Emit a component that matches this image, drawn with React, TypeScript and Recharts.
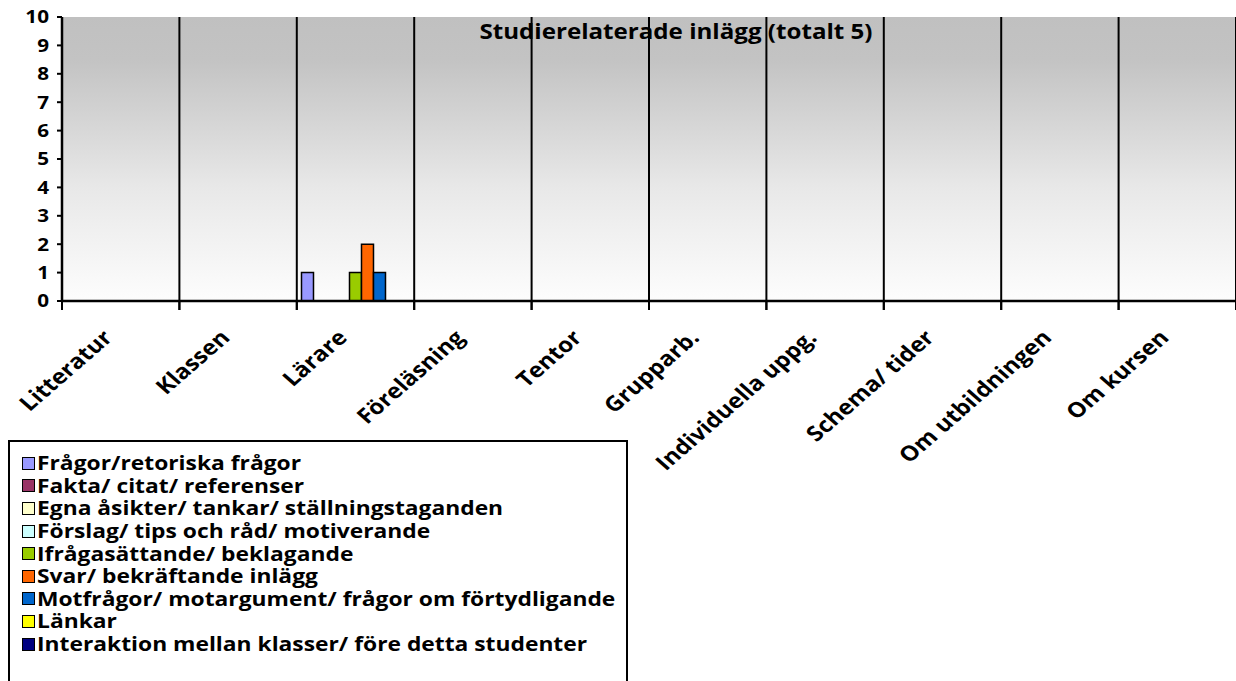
import React from "react";
import {
  BarChart,
  Bar,
  XAxis,
  YAxis,
  CartesianGrid,
  Legend,
} from "recharts";

// categories on the x axis
const categories = [
  "Litteratur",
  "Klassen",
  "Lärare",
  "Föreläsning",
  "Tentor",
  "Grupparb.",
  "Individuella uppg.",
  "Schema/ tider",
  "Om utbildningen",
  "Om kursen",
];

const seriesNames = [
  "Frågor/retoriska frågor",
  "Fakta/ citat/ referenser",
  "Egna åsikter/ tankar/ ställningstaganden",
  "Förslag/ tips och råd/ motiverande",
  "Ifrågasättande/ beklagande",
  "Svar/ bekräftande inlägg",
  "Motfrågor/ motargument/ frågor om förtydligande",
  "Länkar",
  "Interaktion mellan klasser/ före detta studenter",
];

const seriesColors = [
  "#9999FF",
  "#993366",
  "#FFFFCC",
  "#CCFFFF",
  "#99CC00",
  "#FF6600",
  "#0066CC",
  "#FFFF00",
  "#000080",
];

// one array per series, one value per category
const fragor = [0, 0, 1, 0, 0, 0, 0, 0, 0, 0];
const fakta = [0, 0, 0, 0, 0, 0, 0, 0, 0, 0];
const asikter = [0, 0, 0, 0, 0, 0, 0, 0, 0, 0];
const forslag = [0, 0, 0, 0, 0, 0, 0, 0, 0, 0];
const ifragasattande = [0, 0, 1, 0, 0, 0, 0, 0, 0, 0];
const svar = [0, 0, 2, 0, 0, 0, 0, 0, 0, 0];
const motfragor = [0, 0, 1, 0, 0, 0, 0, 0, 0, 0];
const lankar = [0, 0, 0, 0, 0, 0, 0, 0, 0, 0];
const interaktion = [0, 0, 0, 0, 0, 0, 0, 0, 0, 0];

const seriesValues = [
  fragor,
  fakta,
  asikter,
  forslag,
  ifragasattande,
  svar,
  motfragor,
  lankar,
  interaktion,
];

const yTicks = [0, 1, 2, 3, 4, 5, 6, 7, 8, 9, 10];

const data = categories.map((name, i) => {
  const row: Record<string, string | number> = { name };
  seriesNames.forEach((s, j) => {
    row[s] = seriesValues[j][i];
  });
  return row;
});

const FONT = "'Open Sans', Lato, sans-serif";
// the original picture is stretched sideways a little
const SX = 1.15;

// label plus tick marks on both edges of the category band (Excel style)
const XTick = (props: any) => {
  const { x, y, payload, width, visibleTicksCount } = props;
  const half =
    payload && typeof payload.offset === "number" && payload.offset > 0
      ? payload.offset
      : (width || 1174) / (visibleTicksCount || categories.length) / 2;
  const ax = x - 7;
  const ay = y + 38;
  return (
    <g>
      <line x1={x - half} y1={y} x2={x - half} y2={y + 9} stroke="#000" strokeWidth={2} />
      <line x1={x + half} y1={y} x2={x + half} y2={y + 9} stroke="#000" strokeWidth={2} />
      <text
        x={0}
        y={0}
        transform={`translate(${ax}, ${ay}) scale(${SX}, 1) rotate(-45)`}
        textAnchor="end"
        fontFamily={FONT}
        fontWeight={700}
        fontSize={21}
        fill="#000"
      >
        {payload.value}
      </text>
    </g>
  );
};

const ValueTick = (props: any) => {
  const { x, y, payload } = props;
  return (
    <text
      x={0}
      y={0}
      dy="0.36em"
      transform={`translate(${x}, ${y}) scale(${SX}, 1)`}
      textAnchor="end"
      fontFamily={FONT}
      fontWeight={700}
      fontSize={18}
      fill="#000"
    >
      {payload.value}
    </text>
  );
};

const renderLegend = () => (
  <div
    style={{
      width: 620,
      height: 250,
      border: "2px solid #000",
      background: "#fff",
      boxSizing: "border-box",
      paddingTop: 10,
      paddingLeft: 12,
      fontFamily: FONT,
      fontWeight: 700,
      fontSize: 20,
      color: "#000",
    }}
  >
    {seriesNames.map((s, j) => (
      <div
        key={s}
        style={{ display: "flex", alignItems: "center", height: 22.6 }}
      >
        <span
          style={{
            display: "inline-block",
            flex: "none",
            width: 11,
            height: 11,
            border: "1.5px solid #000",
            background: seriesColors[j],
            marginRight: 2,
          }}
        />
        <span
          style={{
            lineHeight: "22px",
            whiteSpace: "nowrap",
            display: "inline-block",
            transform: "scaleX(1.14)",
            transformOrigin: "left center",
          }}
        >
          {s}
        </span>
      </div>
    ))}
  </div>
);

// vertical grid at the category band edges
const gridLines = ({ offset }: any) =>
  categories
    .map((_, i) => offset.left + (offset.width * i) / categories.length)
    .concat(offset.left + offset.width);

export default function App() {
  return (
    <div style={{ position: "absolute", left: 0, top: 0, background: "#fff" }}>
      <BarChart
        width={1236}
        height={681}
        data={data}
        margin={{ top: 17, right: 0, left: 0, bottom: 0 }}
        barGap={0}
        barCategoryGap="4%"
      >
        <defs>
          <linearGradient id="plotBg" x1="0" y1="0" x2="0" y2="1">
            <stop offset="0%" stopColor="#c0c0c0" />
            <stop offset="15%" stopColor="#c3c3c3" />
            <stop offset="60%" stopColor="#e8e8e8" />
            <stop offset="100%" stopColor="#fdfdfd" />
          </linearGradient>
        </defs>
        <CartesianGrid
          horizontal={false}
          vertical
          verticalCoordinatesGenerator={gridLines}
          fill="url(#plotBg)"
          fillOpacity={1}
          stroke="#000"
          strokeWidth={2}
        />
        <XAxis
          dataKey="name"
          interval={0}
          tickSize={0}
          tickMargin={0}
          height={380}
          axisLine={{ stroke: "#000", strokeWidth: 2.5 }}
          tickLine={false}
          tick={<XTick />}
        />
        <YAxis
          width={62}
          domain={[0, 10]}
          ticks={yTicks}
          interval={0}
          tickSize={5}
          tickMargin={8}
          axisLine={{ stroke: "#000", strokeWidth: 2.5 }}
          tickLine={{ stroke: "#000", strokeWidth: 2 }}
          tick={<ValueTick />}
        />
        {seriesNames.map((s, j) => (
          <Bar
            key={s}
            dataKey={s}
            fill={seriesColors[j]}
            stroke="#000"
            strokeWidth={1.5}
            isAnimationActive={false}
          />
        ))}
        <Legend
          layout="vertical"
          align="center"
          verticalAlign="middle"
          content={renderLegend}
          wrapperStyle={{ left: 8, top: 440, width: 620 }}
        />
        <text
          x={0}
          y={0}
          transform={`translate(676, 39) scale(${SX}, 1)`}
          textAnchor="middle"
          fontFamily={FONT}
          fontWeight={700}
          fontSize={21}
          fill="#000"
        >
          Studierelaterade inlägg (totalt 5)
        </text>
      </BarChart>
    </div>
  );
}
